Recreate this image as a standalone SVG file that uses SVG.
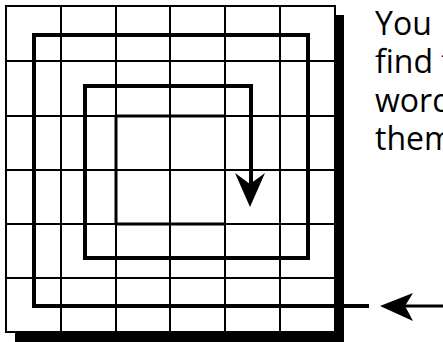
<svg xmlns="http://www.w3.org/2000/svg" width="443" height="342" viewBox="0 0 443 342">
<style>
.grid{stroke:#000;stroke-width:2;fill:none}
.thick{stroke:#000;stroke-width:3;fill:none}
.spiral{stroke:#000;stroke-width:4;fill:none;stroke-linejoin:miter;stroke-linecap:square}
.txt{font-family:"Open Sans","Noto Sans",sans-serif;font-size:32px;fill:#000}
</style>
<defs>
<marker id="barb" viewBox="0 0 30 34" refX="15" refY="34" markerWidth="30" markerHeight="34" markerUnits="userSpaceOnUse" orient="auto-start-reverse">
<path d="M15 34 L0 0 L15 10 L30 0 Z" fill="#000"/>
</marker>
</defs>
<rect width="443" height="342" fill="#fff"/>
<g id="board">
<rect x="335" y="15" width="9" height="327" fill="#000"/>
<rect x="15" y="333" width="329" height="9" fill="#000"/>
<rect x="6" y="6" width="329" height="326" class="grid" fill="#fff"/>
<path class="grid" d="M61 6V332M116 6V332M170 6V332M225 6V332M280 6V332M6 61H335M6 116H335M6 170H335M6 224H335M6 278H335"/>
<path class="thick" d="M116 116V224M116 116H225M116 224H225"/>
</g>
<g id="connectors">
<path class="spiral" d="M367 306H34V35H308V258H85V86H251V180"/>
<path d="M251 173 L251 190" stroke="#000" stroke-width="4"/>
<path d="M250 207 L235 173 L250 184 L265 173 Z" fill="#000"/>
<path d="M443 306 H405" stroke="#000" stroke-width="3"/>
<path d="M380 306 L413 293 L405 306 L413 321 Z" fill="#000"/>
</g>
<g id="caption">
<text class="txt" x="375" y="35">You</text>
<text class="txt" x="375" y="73">find t</text>
<text class="txt" x="375" y="112">word</text>
<text class="txt" x="375" y="150">them</text>
</g>
</svg>
